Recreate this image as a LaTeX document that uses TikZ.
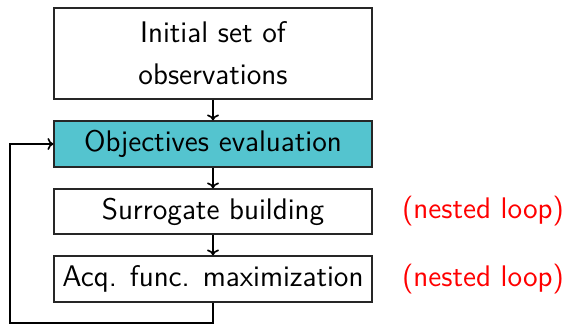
\documentclass[tikz,border=0pt]{standalone}
\usetikzlibrary{arrows.meta}
\definecolor{boxcyan}{RGB}{84,196,207}
\definecolor{nestred}{RGB}{255,0,0}
\begin{document}
\begin{tikzpicture}[x=0.5pt,y=-0.5pt,
  stepbox/.style={draw=black!85, line width=0.55pt, minimum width=159pt, inner sep=0pt, font=\sffamily\fontsize{14.9}{21}\selectfont, align=center},
  flow/.style={line width=0.8pt, -{To[length=3pt,width=6pt]}},
  nestlabel/.style={text=nestred, font=\sffamily\fontsize{14.9}{17}\selectfont}]
\useasboundingbox (0,0) rectangle (566,327);
\node[stepbox, minimum height=45.5pt] (init) at (213,53.5) {Initial set of\\observations};
\node[stepbox, fill=boxcyan, minimum height=23pt] (obj) at (213,144) {Objectives evaluation};
\node[stepbox, minimum height=22.5pt] (sur) at (213,211.5) {Surrogate building};
\node[stepbox, minimum height=23pt] (acq) at (213,279) {Acq. func. maximization};
\node[nestlabel] (n1) at (483,211.5) {(nested loop)};
\node[nestlabel] (n2) at (483,279) {(nested loop)};
\coordinate (c1) at (213,323);
\coordinate (c2) at (10,323);
\coordinate (c3) at (10,144);
\draw[flow] (init) -- (obj);
\draw[flow] (obj) -- (sur);
\draw[flow] (sur) -- (acq);
\draw[flow] (acq.south) -- (c1) -- (c2) -- (c3) -- (obj.west);
\end{tikzpicture}
\end{document}
